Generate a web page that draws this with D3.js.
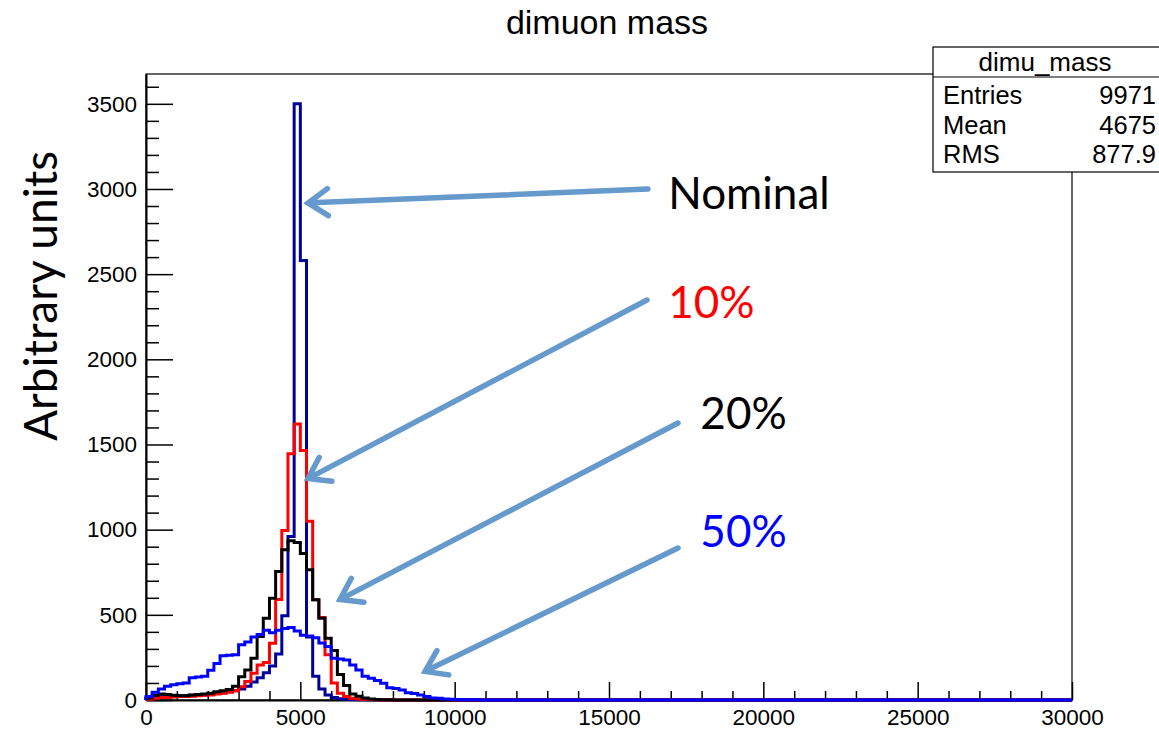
<!DOCTYPE html>
<html>
<head>
<meta charset="utf-8">
<script src="https://cdn.jsdelivr.net/npm/d3@7"></script>
<style>
  html, body { margin: 0; padding: 0; background: #fff; }
  svg { display: block; }
  .tick text { font-family: "Liberation Sans", Arial, sans-serif; }
</style>
</head>
<body>
<svg id="chart" width="1159" height="731"></svg>
<script>
// histogram binning: 150 bins of 200 from 0 to 30000
const binWidth = 200;
const nBins = 150;

// bin contents (bins not listed are empty)
const nominal = [8, 15, 20, 22, 22, 25, 25, 28, 30, 30, 35, 40, 42, 48, 55, 65, 80, 105, 130, 160,
  200, 270, 495, 960, 3500, 2580, 370, 140, 65, 30, 15, 8, 5, 3, 2, 1];
const smear10 = [5, 10, 15, 15, 18, 20, 20, 22, 25, 28, 30, 35, 40, 45, 55, 78, 108, 157, 206, 220,
  333, 590, 995, 1445, 1620, 1465, 1050, 588, 485, 265, 100, 40, 20, 10, 6, 4, 2, 1];
const smear20 = [12, 28, 35, 32, 28, 25, 25, 30, 32, 35, 40, 48, 55, 62, 80, 137, 176, 245, 373, 480,
  598, 755, 882, 935, 925, 860, 765, 588, 480, 363, 290, 150, 85, 35, 22, 12, 6, 3, 2, 1];
const smear50 = [20, 45, 65, 80, 90, 95, 100, 130, 135, 140, 175, 215, 260, 262, 265, 325, 340, 370, 385, 410,
  395, 410, 420, 425, 405, 380, 375, 365, 335, 314, 245, 240, 235, 206, 176, 140, 127, 115, 98, 72,
  68, 58, 42, 38, 29, 20, 12, 10, 6, 5, 3, 2, 1, 1];

const xMajor = [0, 5000, 10000, 15000, 20000, 25000, 30000];
const yMajor = [0, 500, 1000, 1500, 2000, 2500, 3000, 3500];

const statsTitle = 'dimu_mass';
const statsNames = ['Entries', 'Mean', 'RMS'];
const statsValues = ['9971', '4675', '877.9'];

// annotation text and arrow ends, in data units
const noteText = ['Nominal', '10%', '20%', '50%'];
const noteX = [16920, 16920, 17960, 17960];
const noteY = [2885, 2245, 1590, 900];
const arrowTail = [[16260, 3000], [16230, 2348], [17235, 1626], [17235, 892]];
const arrowTip = [[5250, 2918], [5250, 1300], [6285, 590], [9040, 168]];

(function () {
  const svg = d3.select('#chart');
  const left = 146, right = 1072, top = 74, bottom = 700;

  const x = d3.scaleLinear().domain([0, 30000]).range([left, right]);
  const y = d3.scaleLinear().domain([0, 3675]).range([bottom, top]);

  const font = '"Liberation Sans", Arial, sans-serif';
  const noteFont = 'Lato, "Open Sans", sans-serif';

  // title
  svg.append('text')
    .attr('x', 607).attr('y', 34)
    .attr('text-anchor', 'middle')
    .attr('font-family', font)
    .attr('font-size', 34)
    .text('dimuon mass');

  // frame
  svg.append('rect')
    .attr('x', left).attr('y', top)
    .attr('width', right - left).attr('height', bottom - top)
    .attr('fill', 'none').attr('stroke', '#000').attr('stroke-width', 1.2);

  // minor ticks
  const xMinor = d3.range(0, 30001, 1000).filter(d => d % 5000 !== 0);
  const yMinor = d3.range(0, 3601, 100).filter(d => d % 500 !== 0);

  svg.append('g')
    .attr('transform', `translate(0,${bottom})`)
    .call(d3.axisBottom(x).tickValues(xMinor).tickSize(-9).tickFormat(''))
    .call(g => g.select('.domain').remove())
    .call(g => g.selectAll('line').attr('stroke-width', 1.5));

  svg.append('g')
    .attr('transform', `translate(${left},0)`)
    .call(d3.axisLeft(y).tickValues(yMinor).tickSize(-13).tickFormat(''))
    .call(g => g.select('.domain').remove())
    .call(g => g.selectAll('line').attr('stroke-width', 1.5));

  // major ticks with labels
  svg.append('g')
    .attr('transform', `translate(0,${bottom})`)
    .call(d3.axisBottom(x).tickValues(xMajor).tickSizeInner(-18).tickSizeOuter(0).tickPadding(9).tickFormat(d3.format('d')))
    .call(g => g.select('.domain').attr('stroke-width', 2))
    .call(g => g.selectAll('line').attr('stroke-width', 1.5))
    .call(g => g.selectAll('text').attr('font-size', 22.5).attr('fill', '#000'));

  svg.append('g')
    .attr('transform', `translate(${left},0)`)
    .call(d3.axisLeft(y).tickValues(yMajor).tickSizeInner(-27).tickSizeOuter(0).tickPadding(9).tickFormat(d3.format('d')))
    .call(g => g.select('.domain').attr('stroke-width', 2))
    .call(g => g.selectAll('line').attr('stroke-width', 1.5))
    .call(g => g.selectAll('text').attr('font-size', 22.5).attr('fill', '#000'));

  // histograms as step outlines
  function steps(values) {
    const full = d3.range(nBins).map(i => values[i] || 0);
    const pts = [[0, 0]];
    full.forEach((v, i) => {
      pts.push([i * binWidth, v]);
      pts.push([(i + 1) * binWidth, v]);
    });
    pts.push([nBins * binWidth, 0]);
    return pts;
  }

  const line = d3.line().x(d => x(d[0])).y(d => y(d[1]));

  const series = [
    { values: nominal, color: '#00009a' },
    { values: smear10, color: '#ff0000' },
    { values: smear20, color: '#000000' },
    { values: smear50, color: '#0000ff' },
  ];

  svg.append('g')
    .selectAll('path')
    .data(series)
    .enter()
    .append('path')
    .attr('d', d => line(steps(d.values)))
    .attr('fill', 'none')
    .attr('stroke', d => d.color)
    .attr('stroke-width', 3)
    .attr('stroke-linejoin', 'miter');

  // y axis title
  svg.append('text')
    .attr('transform', 'translate(57,296) rotate(-90)')
    .attr('text-anchor', 'middle')
    .attr('font-family', noteFont)
    .attr('font-size', 46)
    .text('Arbitrary units');

  // arrows
  const arrowColor = '#6699cc';
  const arrows = svg.append('g')
    .attr('stroke', arrowColor)
    .attr('stroke-width', 5.5)
    .attr('stroke-linecap', 'round')
    .attr('fill', 'none');

  arrowTail.forEach((t, i) => {
    const x1 = x(t[0]), y1 = y(t[1]);
    const x2 = x(arrowTip[i][0]), y2 = y(arrowTip[i][1]);
    const ang = Math.atan2(y1 - y2, x1 - x2);
    const len = 24, spread = 0.6;
    arrows.append('line')
      .attr('x1', x1).attr('y1', y1).attr('x2', x2 + 3 * Math.cos(ang)).attr('y2', y2 + 3 * Math.sin(ang));
    arrows.append('path')
      .attr('stroke-linejoin', 'miter')
      .attr('d', `M${x2 + len * Math.cos(ang - spread)},${y2 + len * Math.sin(ang - spread)}` +
        `L${x2},${y2}` +
        `L${x2 + len * Math.cos(ang + spread)},${y2 + len * Math.sin(ang + spread)}`);
  });

  // annotation labels
  const noteColor = ['#000000', '#ff0000', '#000000', '#0000ff'];
  svg.append('g')
    .selectAll('text')
    .data(noteText)
    .enter()
    .append('text')
    .attr('x', (d, i) => x(noteX[i]))
    .attr('y', (d, i) => y(noteY[i]))
    .attr('font-family', noteFont)
    .attr('font-size', 44)
    .attr('fill', (d, i) => noteColor[i])
    .text(d => d);

  // stats box
  const box = svg.append('g');
  box.append('rect')
    .attr('x', 933).attr('y', 47)
    .attr('width', 240).attr('height', 125)
    .attr('fill', '#fff').attr('stroke', '#000').attr('stroke-width', 1.2);
  box.append('line')
    .attr('x1', 933).attr('x2', 1173).attr('y1', 77).attr('y2', 77)
    .attr('stroke', '#000').attr('stroke-width', 1.2);
  box.append('text')
    .attr('x', 1045).attr('y', 71)
    .attr('text-anchor', 'middle')
    .attr('font-family', font).attr('font-size', 26)
    .text(statsTitle);
  statsNames.forEach((name, i) => {
    box.append('text')
      .attr('x', 943).attr('y', 104 + i * 29.5)
      .attr('font-family', font).attr('font-size', 25.5)
      .text(name);
    box.append('text')
      .attr('x', 1156).attr('y', 104 + i * 29.5)
      .attr('text-anchor', 'end')
      .attr('font-family', font).attr('font-size', 25.5)
      .text(statsValues[i]);
  });
})();
</script>
</body>
</html>
